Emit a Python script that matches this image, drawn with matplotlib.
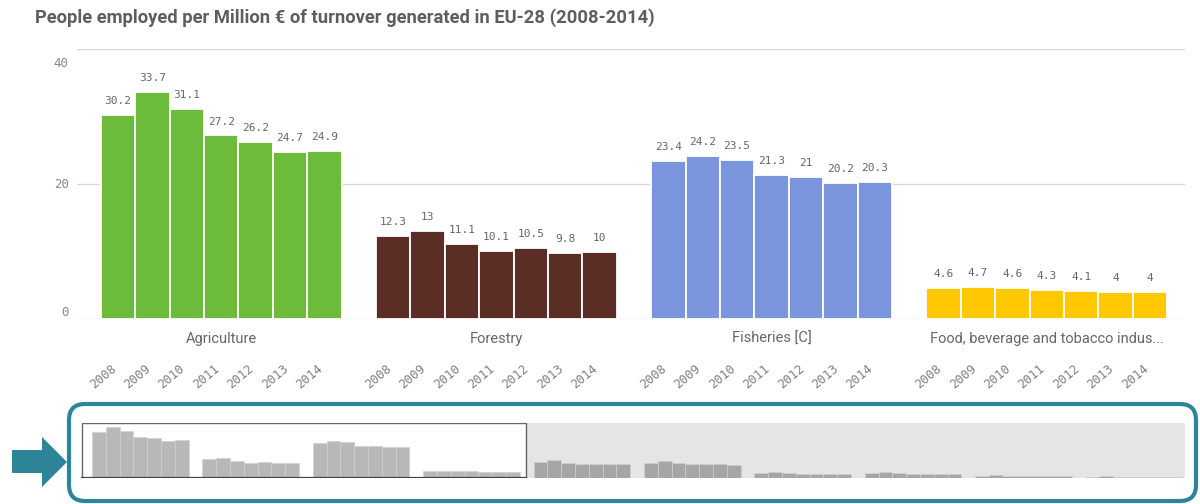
import matplotlib
matplotlib.use("Agg")
import matplotlib.pyplot as plt
from matplotlib.patches import FancyBboxPatch, Polygon, Rectangle
from matplotlib.transforms import IdentityTransform, ScaledTranslation
from matplotlib import font_manager

# ---------------- data ----------------
title = "People employed per Million € of turnover generated in EU-28 (2008-2014)"
categories = ["Agriculture", "Forestry", "Fisheries [C]", "Food, beverage and tobacco indus..."]
years = ["2008", "2009", "2010", "2011", "2012", "2013", "2014"]
agriculture = [30.2, 33.7, 31.1, 27.2, 26.2, 24.7, 24.9]
forestry = [12.3, 13, 11.1, 10.1, 10.5, 9.8, 10]
fisheries = [23.4, 24.2, 23.5, 21.3, 21, 20.2, 20.3]
food = [4.6, 4.7, 4.6, 4.3, 4.1, 4, 4]
# remaining (off-screen) categories visible only in the mini-chart scrollbar
extra5 = [10.5, 12.0, 10.2, 9.5, 9.3, 9.2, 9.3]
extra6 = [9.6, 11.0, 10.0, 9.3, 9.3, 9.2, 8.8]
extra7 = [3.3, 4.0, 3.3, 2.9, 2.9, 2.9, 2.9]
extra8 = [3.3, 3.7, 3.0, 2.9, 2.9, 2.5, 2.5]
extra9 = [1.5, 1.8, 1.3, 1.1, 1.1, 1.1, 1.1]
extra10 = [0.8, 1.0, 0.8, 0.8, 0.8, 0.8, 0.8]
yticks = [0, 20, 40]

main_series = [agriculture, forestry, fisheries, food]
mini_series = main_series + [extra5, extra6, extra7, extra8, extra9, extra10]
colors = ["#6dbb3a", "#5a2e24", "#7b95dc", "#ffc800"]

# ---------------- fonts ----------------
avail = {f.name for f in font_manager.fontManager.ttflist}
narrow = "Liberation Sans Narrow" if "Liberation Sans Narrow" in avail else "Roboto"
mono = "DejaVu Sans Mono"

fig = plt.figure(figsize=(12, 5.04), dpi=100)
W, H = 1200, 504

def frac_box(left, top, right, bottom):
    return [left / W, (H - bottom) / H, (right - left) / W, (bottom - top) / H]

# ---------------- main chart ----------------
ax = fig.add_axes(frac_box(77, 49, 1185, 319))
slot = 8
xlim_main = (-1.19, 31.02)
for g, vals in enumerate(main_series):
    xs = [g * slot + i for i in range(len(vals))]
    ax.bar(xs, vals, width=1.0, color=colors[g], edgecolor="white", linewidth=1.3, zorder=3)
    for x, v in zip(xs, vals):
        ax.annotate(f"{v:g}", (x, v), xytext=(0, 10), textcoords="offset points",
                    ha="center", va="center", fontsize=8, family=mono, color="#666666", zorder=4)
    cx = g * slot + (len(vals) - 1) / 2
    ax.text(cx, -0.074, categories[g], transform=ax.get_xaxis_transform(), ha="center", va="center",
            fontsize=10.5, family=narrow, color="#666666")
    for x, yr in zip(xs, years):
        ax.text(x - 0.1, -0.178, yr, transform=ax.get_xaxis_transform(), rotation=40,
                rotation_mode="anchor", ha="right", va="center", fontsize=9, family=mono, color="#808080")

ax.set_xlim(*xlim_main)
ax.set_ylim(0, 40)
for s in ax.spines.values():
    s.set_visible(False)
ax.set_xticks([])
ax.set_yticks(yticks)
ax.set_yticklabels([str(t) for t in yticks], family=mono, fontsize=9, color="#8a8a8a")
ax.tick_params(axis="y", length=0, pad=6)
for lab, va in zip(ax.get_yticklabels(), ["bottom", "center", "top"]):
    lab.set_va(va)
top_lab = ax.get_yticklabels()[-1]
top_lab.set_transform(top_lab.get_transform() + ScaledTranslation(0, -6 / 72, fig.dpi_scale_trans))
for t in yticks:
    ax.axhline(t, color="#d9d9d9", linewidth=1, zorder=1)

# ---------------- mini chart (scrollbar) ----------------
mx = fig.add_axes(frac_box(81, 423, 1185, 478))
xlim_mini = (-1.30, 78.7)
mx.set_xlim(*xlim_mini)
mx.set_ylim(0, 36.3)
sel_right = xlim_main[1] - 0.07
mx.axvspan(sel_right, xlim_mini[1], color="#e5e5e5", zorder=0, linewidth=0)
for g, vals in enumerate(mini_series):
    xs = [g * slot + i for i in range(len(vals))]
    c = ["#b8b8b8" if x < sel_right else "#a6a6a6" for x in xs]
    mx.bar(xs, vals, width=1.0, color=c, edgecolor="#d0d0d0", linewidth=0.5, zorder=2)
mx.add_patch(Rectangle((xlim_mini[0] + 0.08, 0), sel_right - xlim_mini[0] - 0.08, 36.0,
                       fill=False, edgecolor="#666666", linewidth=1.0, zorder=3))
mx.plot([xlim_mini[0] + 0.08, sel_right], [0, 0], color="#444444", linewidth=1.6, zorder=4)
mx.axis("off")

# ---------------- title ----------------
fig.text(35 / W, 1 - 18 / H, title, ha="left", va="center", fontsize=13.2,
         fontweight="bold", family=narrow, color="#5e5e5e")

# ---------------- teal annotation frame + arrow ----------------
teal = "#2e8599"
box = FancyBboxPatch((69, 3), 1196 - 69, 100 - 3,
                     boxstyle="round,pad=0,rounding_size=16",
                     transform=IdentityTransform(), fill=False, edgecolor=teal, linewidth=3.0)
fig.patches.append(box)
arrow = Polygon([(12, 54), (42, 54), (42, 67), (67, 42), (42, 17), (42, 31), (12, 31)],
                closed=True, transform=IdentityTransform(), facecolor=teal, edgecolor="none")
fig.patches.append(arrow)

fig.savefig("out.png", dpi=100)
